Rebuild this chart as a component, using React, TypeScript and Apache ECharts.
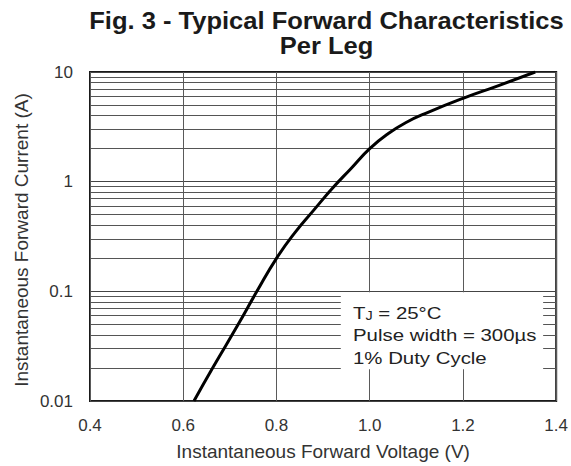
import React, { useEffect, useRef } from "react";
import * as echarts from "echarts";

const titleLines = ["Fig. 3 - Typical Forward Characteristics", "Per Leg"];
const xAxisName = "Instantaneous Forward Voltage (V)";
const yAxisName = "Instantaneous Forward Current (A)";
const xTicks = [0.4, 0.6, 0.8, 1.0, 1.2, 1.4];
const yMin = 0.01;
const yMax = 10;
const minorGridValues = [
  0.02, 0.03, 0.04, 0.05, 0.06, 0.07, 0.08, 0.09,
  0.2, 0.3, 0.4, 0.5, 0.6, 0.7, 0.8, 0.9,
  2, 3, 4, 5, 6, 7, 8, 9,
];
const voltage = [0.623, 0.663, 0.718, 0.758, 0.8, 0.84, 0.88, 0.92, 0.96, 1.0, 1.04, 1.08, 1.12, 1.2, 1.272, 1.355];
const current = [0.01, 0.02, 0.05, 0.1, 0.2, 0.345, 0.55, 0.87, 1.32, 2.0, 2.75, 3.5, 4.2, 5.75, 7.4, 10];
const boxCorners = [
  [0.938, 0.098],
  [1.372, 0.0195],
];
const noteLines = ["T{sub|J} = 25°C", "Pulse width = 300µs", "1% Duty Cycle"];

const FONT = "'Liberation Sans', Arial, Helvetica, sans-serif";

export default function App() {
  const ref = useRef<HTMLDivElement>(null);
  useEffect(() => {
    if (!ref.current) return;
    const chart = echarts.init(ref.current, null, { renderer: "svg" });
    const curve = voltage.map((v, i) => [v, current[i]]);
    chart.setOption({
      animation: false,
      backgroundColor: "#ffffff",
      textStyle: { fontFamily: FONT },
      grid: {
        left: 90,
        top: 72,
        right: 10,
        bottom: 63,
        show: true,
        borderColor: "#1a1a1a",
        borderWidth: 2,
        backgroundColor: "transparent",
      },
      xAxis: {
        type: "value",
        min: 0.4,
        max: 1.4,
        interval: 0.2,
        name: xAxisName,
        nameLocation: "middle",
        nameGap: 41,
        nameTextStyle: { fontSize: 19, color: "#333", fontFamily: FONT },
        axisLine: { show: false },
        axisTick: { show: false },
        axisLabel: {
          fontSize: 17,
          color: "#333",
          margin: 16,
          fontFamily: FONT,
          formatter: (v: number) => (xTicks.some((t) => Math.abs(t - v) < 1e-6) ? v.toFixed(1) : ""),
        },
        splitLine: { show: true, lineStyle: { color: "#5a5a5a", width: 1 } },
      },
      yAxis: {
        type: "log",
        logBase: 10,
        min: yMin,
        max: yMax,
        axisLine: { show: false },
        axisTick: { show: false },
        axisLabel: {
          fontSize: 17,
          color: "#333",
          margin: 17,
          fontFamily: FONT,
          formatter: (v: number) => String(parseFloat(v.toPrecision(3))),
        },
        splitLine: { show: true, lineStyle: { color: "#444", width: 1 } },
      },
      graphic: [
        {
          type: "text",
          x: 326.5,
          y: 21,
          scaleX: 1.11,
          style: {
            x: 0,
            y: 0,
            text: titleLines[0],
            font: `bold 23px ${FONT}`,
            fill: "#1a1a1a",
            align: "center",
            verticalAlign: "middle",
          },
        },
        {
          type: "text",
          x: 326.5,
          y: 46,
          scaleX: 1.11,
          style: {
            x: 0,
            y: 0,
            text: titleLines[1],
            font: `bold 23px ${FONT}`,
            fill: "#1a1a1a",
            align: "center",
            verticalAlign: "middle",
          },
        },
        {
          type: "text",
          x: 21,
          y: 240,
          rotation: Math.PI / 2,
          style: {
            x: 0,
            y: 0,
            text: yAxisName,
            fontFamily: FONT,
            fontSize: 19,
            fill: "#333",
            align: "center",
            verticalAlign: "middle",
          },
        },
        ...noteLines.map((t, i) => ({
          type: "text",
          z: 10,
          x: 353,
          y: 313 + i * 22.5,
          scaleX: 1.2,
          style: {
            x: 0,
            y: 0,
            text: t,
            fontFamily: FONT,
            fontSize: 17,
            fill: "#222",
            align: "left",
            verticalAlign: "middle",
            rich: {
              sub: { fontSize: 12, fontFamily: FONT, fill: "#222", verticalAlign: "bottom", padding: [5, 0, 0, 0] },
            },
          },
        })),
      ],
      series: [
        {
          type: "line",
          data: [],
          z: 1,
          silent: true,
          markLine: {
            z: 1,
            silent: true,
            symbol: ["none", "none"],
            label: { show: false },
            lineStyle: { color: "#555", width: 1, type: "solid" },
            emphasis: { disabled: true },
            data: minorGridValues.map((v) => ({ yAxis: v })),
          },
          markArea: {
            z: 2,
            silent: true,
            itemStyle: { color: "#ffffff", borderWidth: 0 },
            label: { show: false },
            data: [[{ coord: boxCorners[0] }, { coord: boxCorners[1] }]],
          },
        },
        {
          type: "line",
          data: curve,
          z: 5,
          smooth: 0.5,
          showSymbol: false,
          silent: true,
          lineStyle: { color: "#000", width: 3 },
        },
      ],
    });
    return () => chart.dispose();
  }, []);
  return (
    <div
      ref={ref}
      style={{ position: "fixed", left: 0, top: 0, width: 571, height: 466, background: "#fff" }}
    />
  );
}
